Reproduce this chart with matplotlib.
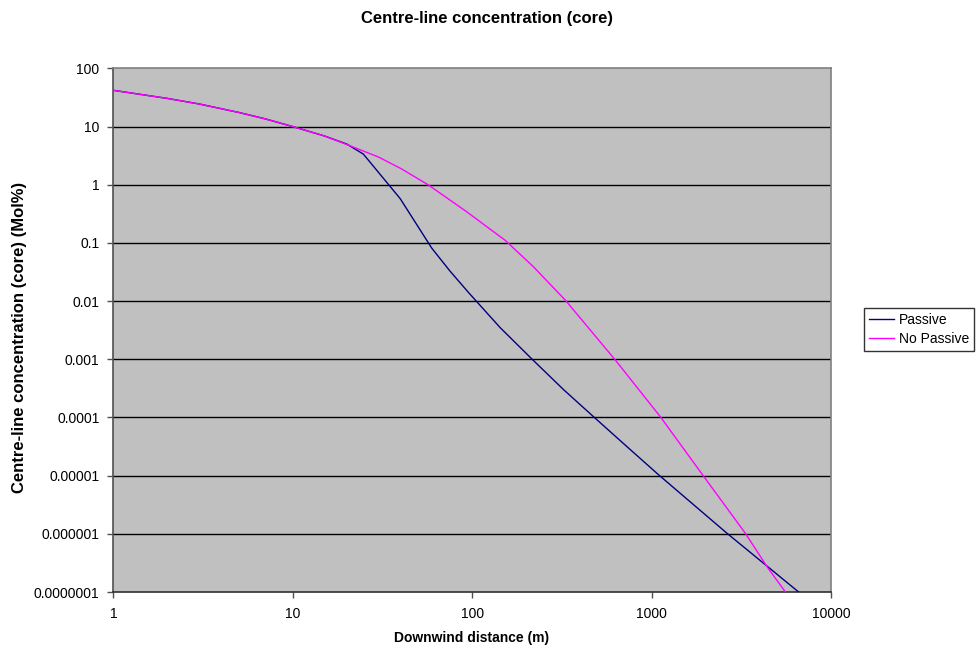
import numpy as np
import matplotlib
matplotlib.use("Agg")
import matplotlib.pyplot as plt
from matplotlib.ticker import FixedLocator, FixedFormatter, NullLocator

plt.rcParams['font.family'] = ['Liberation Sans', 'DejaVu Sans']

# downwind distance (m) and centre-line concentration (mol%)
passive_x = [1, 2, 3, 5, 7, 10, 15, 20, 24.7, 39.6, 59.5, 75, 95, 143, 215, 323, 474, 728,
             1094, 2630, 6590]
passive_y = [42, 30.5, 24.5, 17.5, 13.6, 10, 6.9, 5.0, 3.37, 0.58, 0.081, 0.033, 0.0142,
             0.0035, 0.00101, 3.0e-4, 1.03e-4, 3.15e-5, 1.03e-5, 1.02e-6, 1.0e-7]

nopassive_x = [1, 2, 3, 5, 7, 10, 15, 20.4, 30, 40, 57, 93, 153, 219, 330, 627, 1117, 1922,
               3327, 4400, 5560]
nopassive_y = [42, 30.5, 24.5, 17.5, 13.6, 10, 6.9, 4.8, 3.0, 1.9, 0.99, 0.344, 0.11, 0.039,
               0.0104, 9.7e-4, 1.03e-4, 1.03e-5, 1.02e-6, 2.7e-7, 1.0e-7]

yticks = [1e-7, 1e-6, 1e-5, 1e-4, 1e-3, 1e-2, 1e-1, 1, 10, 100]
ylabels = ["0.0000001", "0.000001", "0.00001", "0.0001", "0.001", "0.01", "0.1", "1", "10", "100"]
xticks = [1, 10, 100, 1000, 10000]
xlabels = ["1", "10", "100", "1000", "10000"]

fig = plt.figure(figsize=(9.8, 6.48), dpi=100)
ax = fig.add_axes([0.1158, 0.0864, 0.7323, 0.808])
ax.set_facecolor('#C0C0C0')

ax.plot(passive_x, passive_y, color='#000080', lw=1.0, label='Passive', zorder=3)
ax.plot(nopassive_x, nopassive_y, color='#FF00FF', lw=1.0, label='No Passive', zorder=3)

ax.set_xscale('log')
ax.set_yscale('log')
ax.set_xlim(1, 10000)
ax.set_ylim(1e-7, 100)

ax.yaxis.set_major_locator(FixedLocator(yticks))
ax.yaxis.set_major_formatter(FixedFormatter(ylabels))
ax.yaxis.set_minor_locator(NullLocator())
ax.xaxis.set_major_locator(FixedLocator(xticks))
ax.xaxis.set_major_formatter(FixedFormatter(xlabels))
ax.xaxis.set_minor_locator(NullLocator())

for y in yticks[1:-1]:
    ax.axhline(y, color='black', lw=1.0, zorder=1)

for s in ax.spines.values():
    s.set_color('#808080')
    s.set_linewidth(1.2)
ax.spines['left'].set_color('#505050')
ax.spines['bottom'].set_color('#303030')

ax.tick_params(axis='both', labelsize=10, length=4, color='#505050', width=1)
ax.tick_params(axis='x', pad=7)
ax.tick_params(axis='y', pad=6)

fig.text(0.497, 0.971, 'Centre-line concentration (core)', fontsize=12, fontweight='bold',
         ha='center', va='center')
fig.text(0.4816, 0.0154, 'Downwind distance (m)', fontsize=10, fontweight='bold',
         ha='center', va='center')
fig.text(0.0194, 0.479, 'Centre-line concentration (core) (Mol%)', fontsize=12,
         fontweight='bold', ha='center', va='center', rotation=90)

leg = fig.legend(loc='upper left', bbox_to_anchor=(0.8816, 0.5247), fontsize=10,
                 frameon=True, fancybox=False, edgecolor='black', borderpad=0.35,
                 handlelength=1.8, handletextpad=0.35, labelspacing=0.35, borderaxespad=0)
leg.get_frame().set_linewidth(1.0)

fig.savefig('out.png', dpi=100)
